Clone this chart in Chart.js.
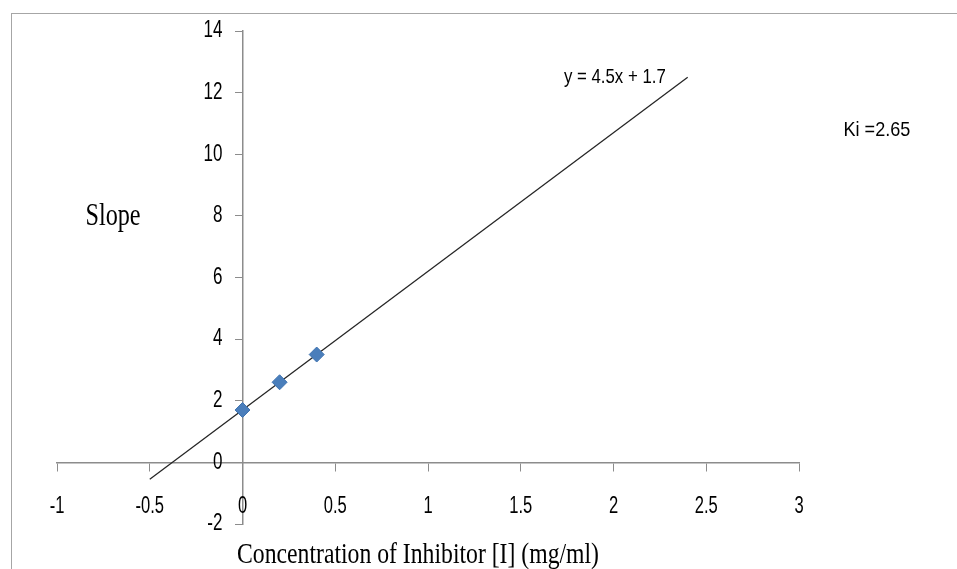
<!DOCTYPE html>
<html>
<head>
<meta charset="utf-8">
<script src="https://cdn.jsdelivr.net/npm/chart.js@4"></script>
<style>
  html, body { margin: 0; padding: 0; background: #fff; overflow: hidden; }
  #wrap { width: 957px; height: 569px; }
</style>
</head>
<body>
<div id="wrap"><canvas id="myChart" width="957" height="569"></canvas></div>
<script>
// inhibitor concentration (mg/ml) vs slope
var concentration = [0, 0.2, 0.4];
var slopes = [1.7, 2.6, 3.5];

// linear trendline y = 4.5x + 1.7 (ends as drawn)
var trendX = [-0.5, 2.4];
var trendY = [-0.55, 12.5];

var xTicks = [-1, -0.5, 0, 0.5, 1, 1.5, 2, 2.5, 3];
var yTicks = [-2, 0, 2, 4, 6, 8, 10, 12, 14];

var equationText = 'y = 4.5x + 1.7';
var kiText = 'Ki =2.65';
var yTitle = 'Slope';
var xTitle = 'Concentration of Inhibitor [I] (mg/ml)';

var sans = "'Liberation Sans', Arial, sans-serif";
var serif = "'Liberation Serif', 'Times New Roman', serif";

var points = [];
for (var i = 0; i < concentration.length; i++) {
    points.push({x: concentration[i], y: slopes[i]});
}
var trend = [];
for (var j = 0; j < trendX.length; j++) {
    trend.push({x: trendX[j], y: trendY[j]});
}

// the picture's text is tall and narrow, so squeeze it sideways
function squeezed(ctx, text, x, y, align, font, sx) {
    ctx.save();
    ctx.font = font;
    ctx.textAlign = align;
    ctx.textBaseline = 'middle';
    ctx.translate(x, y);
    ctx.scale(sx, 1);
    ctx.fillText(text, 0, 0);
    ctx.restore();
}

var extras = {
    id: 'extras',
    beforeDraw: function(chart) {
        var ctx = chart.ctx;
        ctx.save();
        ctx.strokeStyle = '#a6a6a6';
        ctx.lineWidth = 1;
        ctx.strokeRect(11.5, 13.5, 2000, 2000);
        ctx.restore();
    },
    afterDraw: function(chart) {
        var ctx = chart.ctx;
        var xs = chart.scales.x, ys = chart.scales.y;
        var x0 = xs.getPixelForValue(0), y0 = ys.getPixelForValue(0);
        ctx.fillStyle = '#000';

        // tick labels
        xs.ticks.forEach(function(t) {
            squeezed(ctx, String(t.value), xs.getPixelForValue(t.value), y0 + 44, 'center', '23px ' + sans, 0.72);
        });
        ys.ticks.forEach(function(t) {
            squeezed(ctx, String(t.value), x0 - 20, ys.getPixelForValue(t.value), 'right', '23px ' + sans, 0.74);
        });

        // titles and notes
        squeezed(ctx, yTitle, 113, 217, 'center', '31px ' + serif, 0.78);
        squeezed(ctx, xTitle, 418, 555, 'center', '30px ' + serif, 0.79);
        squeezed(ctx, equationText, xs.getPixelForValue(1.733), ys.getPixelForValue(12.5), 'left', '21px ' + sans, 0.8);
        squeezed(ctx, kiText, xs.getPixelForValue(3.24), ys.getPixelForValue(10.77), 'left', '21px ' + sans, 0.86);
    }
};

var ctx = document.getElementById('myChart');
var chart = new Chart(ctx, {
    type: 'scatter',
    data: {
        datasets: [{
            type: 'line',
            data: trend,
            borderColor: '#262626',
            borderWidth: 1.3,
            pointRadius: 0,
            fill: false,
            order: 2
        }, {
            data: points,
            pointStyle: 'rectRot',
            pointRadius: 7.5,
            pointHoverRadius: 7.5,
            backgroundColor: '#4a7ebb',
            borderColor: '#3f73b0',
            borderWidth: 1,
            order: 1
        }]
    },
    options: {
        responsive: false,
        animation: false,
        events: [],
        layout: {
            padding: {left: 57, right: 158, top: 31, bottom: 45}
        },
        plugins: {
            legend: {display: false},
            tooltip: {enabled: false}
        },
        scales: {
            x: {
                type: 'linear',
                position: {y: 0},
                min: -1,
                max: 3,
                afterBuildTicks: function(scale) {
                    scale.ticks = xTicks.map(function(v) { return {value: v}; });
                },
                ticks: {
                    color: 'rgba(0,0,0,0)',
                    autoSkip: false,
                    maxRotation: 0
                },
                grid: {
                    drawOnChartArea: false,
                    drawTicks: true,
                    tickLength: 8,
                    color: '#8c8c8c'
                },
                border: {color: '#8c8c8c', width: 1.5}
            },
            y: {
                type: 'linear',
                position: {x: 0},
                min: -2,
                max: 14,
                afterBuildTicks: function(scale) {
                    scale.ticks = yTicks.map(function(v) { return {value: v}; });
                },
                ticks: {
                    color: 'rgba(0,0,0,0)',
                    autoSkip: false
                },
                grid: {
                    drawOnChartArea: false,
                    drawTicks: true,
                    tickLength: 7,
                    color: '#8c8c8c'
                },
                border: {color: '#8c8c8c', width: 1.5}
            }
        }
    },
    plugins: [extras]
});
</script>
</body>
</html>
